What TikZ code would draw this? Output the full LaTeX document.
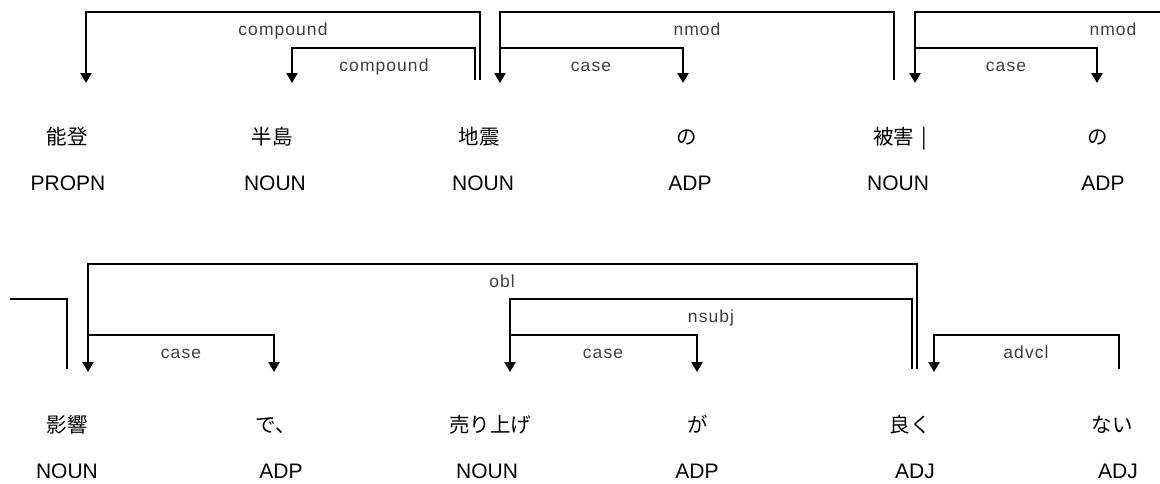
\documentclass[tikz,border=0pt]{standalone}
\usepackage{fontspec}
\setmainfont{Liberation Sans}
\newfontfamily\jpfont{Noto Sans CJK JP}
\newfontfamily\lblfont[LetterSpace=6]{Liberation Sans}
\usetikzlibrary{arrows.meta}
\begin{document}
\begin{tikzpicture}[x=1pt,y=-1pt,
  dep/.style={line width=2.9pt,black},
  arr/.style={dep,-{Triangle[width=11pt,length=10pt]}},
  word/.style={anchor=base,inner sep=0pt,font=\jpfont\fontsize{20.5}{21}\selectfont,text=black},
  tag/.style={anchor=base,inner sep=0pt,font=\fontsize{21}{21}\selectfont,text=black},
  lab/.style={anchor=base,inner sep=0pt,font=\lblfont\fontsize{17.5}{18}\selectfont,text=black!75}]
\useasboundingbox (0,0) rectangle (1160,483);

% ---- words, row 1
\node[word] (w1) at (67,144) {能登};
\node[tag]  (p1) at (68,190) {PROPN};
\node[word] (w2) at (272,144) {半島};
\node[tag]  (p2) at (275,190) {NOUN};
\node[word] (w3) at (479,144) {地震};
\node[tag]  (p3) at (483,190) {NOUN};
\node[word] (w4) at (687,144) {の};
\node[tag]  (p4) at (690,190) {ADP};
\node[word,anchor=base west] (w5) at (873,144) {被害\hspace{7pt}|};
\node[tag]  (p5) at (898,190) {NOUN};
\node[word] (w6) at (1098,144) {の};
\node[tag]  (p6) at (1103,190) {ADP};

% ---- words, row 2
\node[word] (w7) at (67,432) {影響};
\node[tag]  (p7) at (67,478) {NOUN};
\node[word] (w8) at (276,432) {で、};
\node[tag]  (p8) at (281,478) {ADP};
\node[word] (w9) at (490,432) {売り上げ};
\node[tag]  (p9) at (487,478) {NOUN};
\node[word] (w10) at (698,432) {が};
\node[tag]  (p10) at (697,478) {ADP};
\node[word] (w11) at (910,432) {良く};
\node[tag]  (p11) at (915,478) {ADJ};
\node[word] (w12) at (1112,432) {ない};
\node[tag]  (p12) at (1118,478) {ADJ};

% ---- arc end points, row 1
\coordinate (h3a) at (480,80);   % 地震 head (outer compound)
\coordinate (h3b) at (475,80);   % 地震 head (inner compound)
\coordinate (d1)  at (86,83);    % 能登
\coordinate (d2)  at (292,83);   % 半島
\coordinate (h5)  at (894,80);   % 被害 head
\coordinate (d3)  at (500,83);   % 地震
\coordinate (h3c) at (500,48);
\coordinate (d4)  at (683,83);   % の
\coordinate (d5)  at (915,83);   % 被害
\coordinate (h5b) at (915,48);
\coordinate (d6)  at (1097,83);  % の
\coordinate (out5) at (1160,12);

% ---- arc end points, row 2
\coordinate (in7) at (10,299);
\coordinate (h7c) at (67,369);
\coordinate (d7)  at (88,372);   % 影響
\coordinate (h7)  at (88,335);
\coordinate (d8)  at (274,372);  % で、
\coordinate (h11a) at (917,369); % 良く head (obl)
\coordinate (h11b) at (912,369); % 良く head (nsubj)
\coordinate (d9)  at (510,372);  % 売り上げ
\coordinate (h9)  at (510,335);
\coordinate (d10) at (697,372);  % が
\coordinate (h12) at (1119,369); % ない head
\coordinate (d11) at (934,372);  % 良く

% ---- connectors, row 1
\draw[arr] (h3a) -- ++(0,-68) -| (d1);
\draw[arr] (h3b) -- ++(0,-32) -| (d2);
\draw[arr] (h5)  -- ++(0,-68) -| (d3);
\draw[arr] (h3c) -| (d4);
\draw[arr] (out5) -| (d5);
\draw[arr] (h5b) -| (d6);

% ---- connectors, row 2
\draw[dep] (in7) -| (h7c);
\draw[arr] (h11a) -- ++(0,-105) -| (d7);
\draw[arr] (h7) -| (d8);
\draw[arr] (h11b) -- ++(0,-70) -| (d9);
\draw[arr] (h9) -| (d10);
\draw[arr] (h12) -- ++(0,-34) -| (d11);

% ---- labels
\node[lab] (l1) at (283,35) {compound};
\node[lab] (l2) at (384,71) {compound};
\node[lab] (l3) at (697,35) {nmod};
\node[lab] (l4) at (591,71) {case};
\node[lab] (l5) at (1113,35) {nmod};
\node[lab] (l6) at (1006,71) {case};
\node[lab] (l7) at (502,287) {obl};
\node[lab] (l8) at (711,322) {nsubj};
\node[lab] (l9) at (181,358) {case};
\node[lab] (l10) at (603,358) {case};
\node[lab] (l11) at (1026,358) {advcl};
\end{tikzpicture}
\end{document}
